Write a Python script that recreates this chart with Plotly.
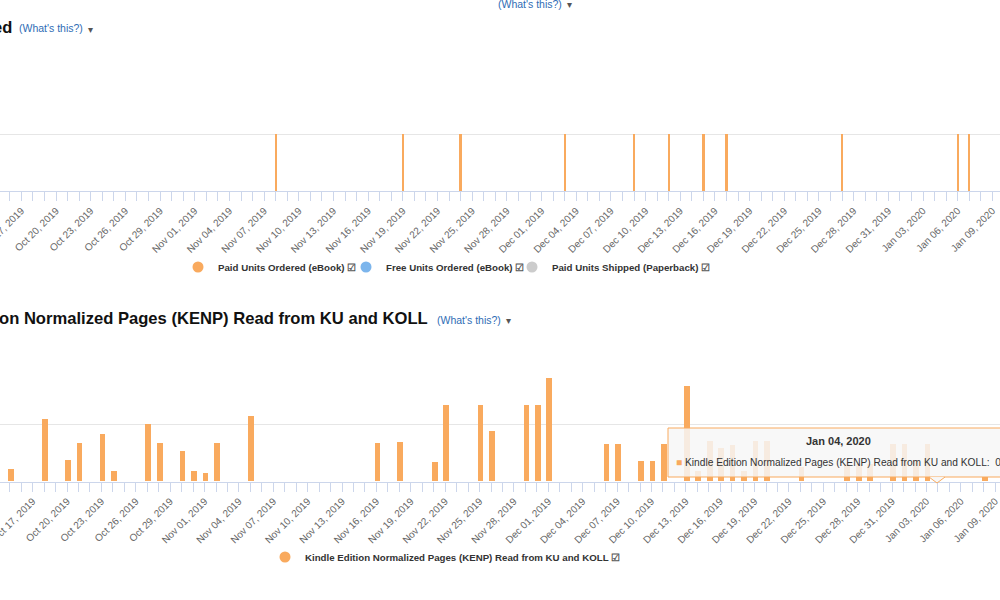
import pandas as pd
import plotly.graph_objects as go

# Top chart: units ordered per day (only paid eBook units occurred)
paid_dates = ["2019-11-08", "2019-11-19", "2019-11-24", "2019-12-03", "2019-12-09",
              "2019-12-12", "2019-12-15", "2019-12-17", "2019-12-27", "2020-01-06",
              "2020-01-07"]
paid_units = [1, 1, 1, 1, 1, 1, 1, 1, 1, 1, 1]
free_dates = []
free_units = []
paperback_dates = []
paperback_units = []

# Bottom chart: KENP read per day
kenp_dates = ["2019-10-15", "2019-10-18", "2019-10-20", "2019-10-21", "2019-10-23",
              "2019-10-24", "2019-10-27", "2019-10-28", "2019-10-30", "2019-10-31",
              "2019-11-01", "2019-11-02", "2019-11-05", "2019-11-16", "2019-11-18",
              "2019-11-21", "2019-11-22", "2019-11-25", "2019-11-26", "2019-11-29",
              "2019-11-30", "2019-12-01", "2019-12-06", "2019-12-07", "2019-12-09",
              "2019-12-10", "2019-12-11", "2019-12-13", "2019-12-14", "2019-12-15",
              "2019-12-16", "2019-12-17", "2019-12-18", "2019-12-19", "2019-12-20",
              "2019-12-23", "2019-12-27", "2019-12-28", "2019-12-29", "2019-12-31",
              "2020-01-01", "2020-01-02", "2020-01-03", "2020-01-08"]
kenp_pages = [22, 109, 37, 67, 82,
              17, 101, 67, 53, 17,
              15, 67, 115, 67, 68,
              33, 134, 134, 88, 133,
              133, 181, 66, 66, 36,
              36, 66, 167, 17, 70,
              58, 64, 17, 70, 70,
              25, 30, 30, 30, 66,
              66, 36, 66, 8]

tooltip_date = "Jan 04, 2020"
tooltip_value = 0

ORANGE = "#f9aa5e"
BLUE = "#7cb5ec"
GREY = "#cccccc"
LINK = "#2f6db5"
FONT = "Liberation Sans, Arial, sans-serif"
CHECK = " <span style='color:#555'>☑</span>"
DAY_MS = 86400000

# the two charts have slightly different plot widths in the screenshot
top_range = ["2019-10-15 03:36", "2020-01-09 15:50"]
kenp_range = ["2019-10-14 01:35", "2020-01-09 08:00"]
tick_days = pd.date_range("2019-10-14", "2020-01-09", freq="D")
tick_text = [d.strftime("%b %d, %Y") if i % 3 == 0 else "" for i, d in enumerate(tick_days)]
top_ticks = list(tick_days)
kenp_ticks = list(tick_days - pd.Timedelta(hours=2))


def py(px):
    """pixel row (from top) -> paper y"""
    return 1 - px / 600


fig = go.Figure()

fig.add_trace(go.Bar(x=paid_dates, y=paid_units, width=0.2 * DAY_MS, marker_color=ORANGE,
                     marker_line_width=0, showlegend=False, xaxis="x", yaxis="y"))
fig.add_trace(go.Bar(x=free_dates, y=free_units, width=0.2 * DAY_MS, marker_color=BLUE,
                     showlegend=False, xaxis="x", yaxis="y"))
fig.add_trace(go.Bar(x=paperback_dates, y=paperback_units, width=0.2 * DAY_MS,
                     marker_color=GREY, showlegend=False, xaxis="x", yaxis="y"))
for name, color, leg in [("Paid Units Ordered (eBook)", ORANGE, "legend"),
                         ("Free Units Ordered (eBook)", BLUE, "legend3"),
                         ("Paid Units Shipped (Paperback)", GREY, "legend4")]:
    fig.add_trace(go.Scatter(x=[None], y=[None], mode="markers", name=name + CHECK,
                             marker=dict(color=color, size=11), legend=leg,
                             xaxis="x", yaxis="y"))

fig.add_trace(go.Bar(x=kenp_dates, y=kenp_pages, width=0.5 * DAY_MS, marker_color=ORANGE,
                     marker_line_width=0, showlegend=False, xaxis="x2", yaxis="y2"))
fig.add_trace(go.Scatter(x=[None], y=[None], mode="markers",
                         name="Kindle Edition Normalized Pages (KENP) Read from KU and KOLL" + CHECK,
                         marker=dict(color=ORANGE, size=11), legend="legend2",
                         xaxis="x2", yaxis="y2"))

xaxis_style = dict(
    type="date", tickmode="array", ticktext=tick_text, tickangle=-45,
    ticks="outside", ticklen=9, tickcolor="#ccd6eb", showline=True,
    linecolor="#ccd6eb", showgrid=False, zeroline=False,
    ticklabeloverflow="allow", automargin=False,
    tickfont=dict(family=FONT, size=10, color="#666666"),
)
yaxis_style = dict(showticklabels=False, showgrid=True, gridcolor="#e6e6e6",
                   zeroline=False, ticks="", automargin=False)
legend_font = dict(family=FONT, size=9.7, color="#333333", weight="bold")


def legend_at(x_px, y_px):
    return dict(orientation="h", x=x_px / 1000, xanchor="left", y=py(y_px),
                yanchor="middle", font=legend_font, bgcolor="rgba(0,0,0,0)")


fig.update_layout(
    width=1000, height=600,
    margin=dict(l=0, r=0, t=0, b=0, autoexpand=False),
    paper_bgcolor="white", plot_bgcolor="white",
    barmode="overlay", bargap=0,
    xaxis=dict(anchor="y", range=top_range, tickvals=top_ticks, **xaxis_style),
    yaxis=dict(domain=[py(191), py(77)], range=[0, 2], dtick=1, **yaxis_style),
    xaxis2=dict(anchor="y2", range=kenp_range, tickvals=kenp_ticks, **xaxis_style),
    yaxis2=dict(domain=[py(481.5), py(367.3)], range=[0, 200], dtick=100, **yaxis_style),
    legend=legend_at(178, 267),
    legend3=legend_at(346, 267),
    legend4=legend_at(512, 267),
    legend2=legend_at(265, 557),
    hovermode=False,
)


def text(x_px, y_px, s, size, color="#333333", anchor="left", bold=False):
    fig.add_annotation(xref="paper", yref="paper", x=x_px / 1000, y=py(y_px), xanchor=anchor,
                       yanchor="middle", text=f"<b>{s}</b>" if bold else s,
                       showarrow=False, font=dict(family=FONT, size=size, color=color))


# chart headers (cut off at the left/top edge of the screenshot)
text(14, 27, "ed", 16.5, "#111111", "right", True)
text(17, 28, "(What's this?)", 10.5, LINK)
text(90, 29, "▾", 10, "#555555", "center")
text(496, 4.5, "(What's this?)", 10.5, LINK)
text(569, 4.5, "▾", 10, "#555555", "center")
text(430, 318, "on Normalized Pages (KENP) Read from KU and KOLL", 16.6, "#111111",
     "right", True)
text(435, 320, "(What's this?)", 10.5, LINK)
text(508, 320, "▾", 10, "#555555", "center")

# hover tooltip over the KENP chart
fig.add_shape(type="rect", xref="paper", yref="paper", x0=0.668, x1=1.008,
              y0=py(477), y1=py(428), fillcolor="rgba(247,247,247,0.85)",
              line=dict(color=ORANGE, width=1), layer="above")
fig.add_shape(type="path", xref="paper", yref="paper",
              path=f"M 0.929 {py(477)} L 0.937 {py(483)} L 0.945 {py(477)}",
              fillcolor="rgba(247,247,247,0.95)", line=dict(color=ORANGE, width=1),
              layer="above")
text(838, 441, tooltip_date, 11, "#333333", "center", True)
text(674, 463,
     f"<span style='color:{ORANGE}'>■</span> Kindle Edition Normalized Pages (KENP) "
     f"Read from KU and KOLL:  {tooltip_value}", 10.2, "#333333")

# drop the browser's default 8px body margin so the figure fills the window
fig.write_html("out.html", config={"displayModeBar": False},
               post_script="document.body.style.margin = '0';")
